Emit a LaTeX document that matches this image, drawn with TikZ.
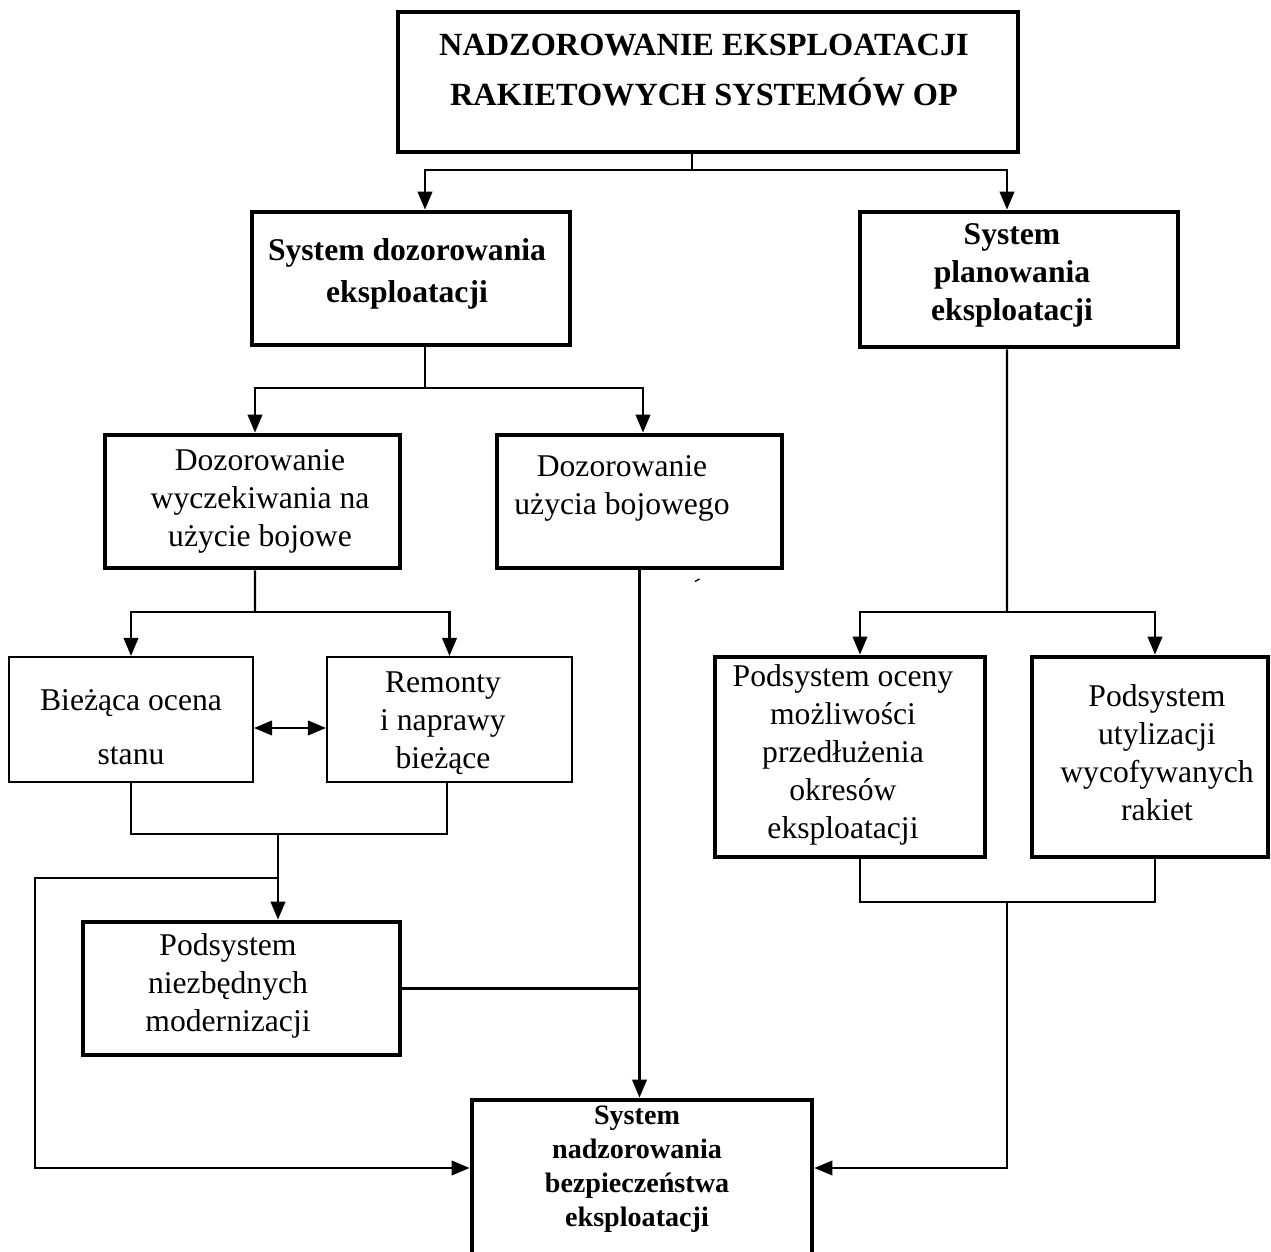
\documentclass[tikz,border=0pt]{standalone}
\usepackage{fontspec}
\setmainfont{Liberation Serif}
\usetikzlibrary{arrows.meta}
\begin{document}
\begin{tikzpicture}[
  thickbox/.style={draw, line width=2.7pt, inner sep=0pt},
  thinbox/.style={draw, line width=1.2pt, inner sep=0pt},
  conn/.style={line width=1.35pt},
  arr/.style={conn, -{Triangle[length=0.36cm,width=0.29cm]}},
  dbl/.style={conn, {Triangle[length=0.36cm,width=0.29cm]}-{Triangle[length=0.36cm,width=0.29cm]}},
  txt/.style={align=center, inner sep=0pt, font=\fontsize{18}{21.6}\selectfont},
  txtb/.style={align=center, inner sep=0pt, font=\fontsize{18}{21.6}\selectfont\bfseries},
  txtbt/.style={align=center, inner sep=0pt, font=\fontsize{18.4}{21.6}\selectfont\bfseries},
  txtbs/.style={align=center, inner sep=0pt, font=\fontsize{16}{19.3}\selectfont\bfseries}
]
\useasboundingbox (0,0) rectangle (25.42,-25.04);
\clip (0,0) rectangle (25.42,-25.04);

% boxes
\node[thickbox, minimum width=12.4cm, minimum height=2.8cm] (top) at (14.16,-1.64) {};
\node[txtbt] (ttop) at (14.08,-1.40) {NADZOROWANIE EKSPLOATACJI\\[6.8pt]RAKIETOWYCH SYSTEMÓW OP};

\node[thickbox, minimum width=6.36cm, minimum height=2.66cm] (SD) at (8.22,-5.57) {};
\node[txtb] (tSD) at (8.14,-5.48) {System dozorowania\\[2.2pt]eksploatacji};

\node[thickbox, minimum width=6.36cm, minimum height=2.7cm] (SP) at (20.38,-5.59) {};
\node[txtb] (tSP) at (20.24,-5.5) {System\\planowania\\eksploatacji};

\node[thickbox, minimum width=5.9cm, minimum height=2.66cm] (DW) at (5.05,-10.03) {};
\node[txt] (tDW) at (5.2,-10.02) {Dozorowanie\\wyczekiwania na\\użycie bojowe};

\node[thickbox, minimum width=5.7cm, minimum height=2.66cm] (DU) at (12.79,-10.03) {};
\node[txt] (tDU) at (12.44,-9.76) {Dozorowanie\\użycia bojowego};

\node[thinbox, minimum width=4.88cm, minimum height=2.5cm] (BO) at (2.62,-14.39) {};
\node[txt] (tBO) at (2.62,-14.54) {Bieżąca ocena\\[9pt]stanu};

\node[thinbox, minimum width=4.9cm, minimum height=2.5cm] (RN) at (8.99,-14.39) {};
\node[txt] (tRN) at (8.86,-14.46) {Remonty\\i naprawy\\bieżące};

\node[thickbox, minimum width=6.34cm, minimum height=2.66cm] (PN) at (4.83,-19.77) {};
\node[txt] (tPN) at (4.56,-19.72) {Podsystem\\niezbędnych\\modernizacji};

\node[thickbox, minimum width=5.4cm, minimum height=4.0cm] (PO) at (17.0,-15.14) {};
\node[txt] (tPO) at (16.86,-15.1) {Podsystem oceny\\możliwości\\przedłużenia\\okresów\\eksploatacji};

\node[thickbox, minimum width=4.72cm, minimum height=4.0cm] (PU) at (23.0,-15.14) {};
\node[txt] (tPU) at (23.14,-15.06) {Podsystem\\utylizacji\\wycofywanych\\rakiet};

\node[thickbox, minimum width=6.8cm, minimum height=3.8cm] (BE) at (12.84,-23.9) {};
\node[txtbs] (tBE) at (12.74,-23.38) {System\\nadzorowania\\bezpieczeństwa\\eksploatacji};

% connectors
\coordinate (j1) at (13.84,-3.4);
\draw[conn] ([xshift=-0.32cm]top.south) -- (j1);
\draw[arr] (j1) -| ([xshift=0.28cm]SD.north);
\draw[arr] (j1) -| ([xshift=-0.24cm]SP.north);

\coordinate (j2) at (8.5,-7.76);
\draw[conn] ([xshift=0.28cm]SD.south) -- (j2);
\draw[arr] (j2) -| ([xshift=0.05cm]DW.north);
\draw[arr] (j2) -| ([xshift=0.07cm]DU.north);

\coordinate (j3) at (5.1,-12.24);
\draw[conn] ([xshift=0.05cm]DW.south) -- (j3);
\draw[arr] (j3) -| (BO.north);
\draw[arr] (j3) -| (RN.north);

\draw[dbl] ([yshift=-0.17cm]BO.east) -- ([yshift=-0.17cm]RN.west);

\coordinate (j4) at (5.56,-16.68);
\draw[conn] (BO.south) |- (j4) -| ([xshift=-0.05cm]RN.south);
\draw[arr] (j4) -- ([xshift=0.73cm]PN.north);
\coordinate (j5) at (5.56,-17.56);
\coordinate (c1) at (0.7,-17.56);
\coordinate (c2) at (0.7,-23.36);
\draw[arr] (j5) -- (c1) -- (c2) -- (c2 -| BE.west);

\coordinate (j6) at (12.8,-19.8);
\draw[conn] (PN.east) -- (PN.east -| j6);
\draw[arr] (DU.south) -- (DU.south |- BE.north);

\coordinate (j7) at (20.14,-12.24);
\draw[conn] ([xshift=-0.24cm]SP.south) -- (j7);
\draw[arr] (j7) -| ([xshift=0.2cm]PO.north);
\draw[arr] (j7) -| ([xshift=0.1cm]PU.north);
\coordinate (j8) at (20.14,-18.04);
\draw[conn] ([xshift=0.2cm]PO.south) |- (j8) -| ([xshift=0.1cm]PU.south);
\coordinate (c3) at (20.14,-23.36);
\draw[arr] (j8) -- (c3) -- (c3 -| BE.east);

% stray mark
\draw[line width=0.8pt] (13.9,-11.63) -- (13.99,-11.58);
\end{tikzpicture}
\end{document}
